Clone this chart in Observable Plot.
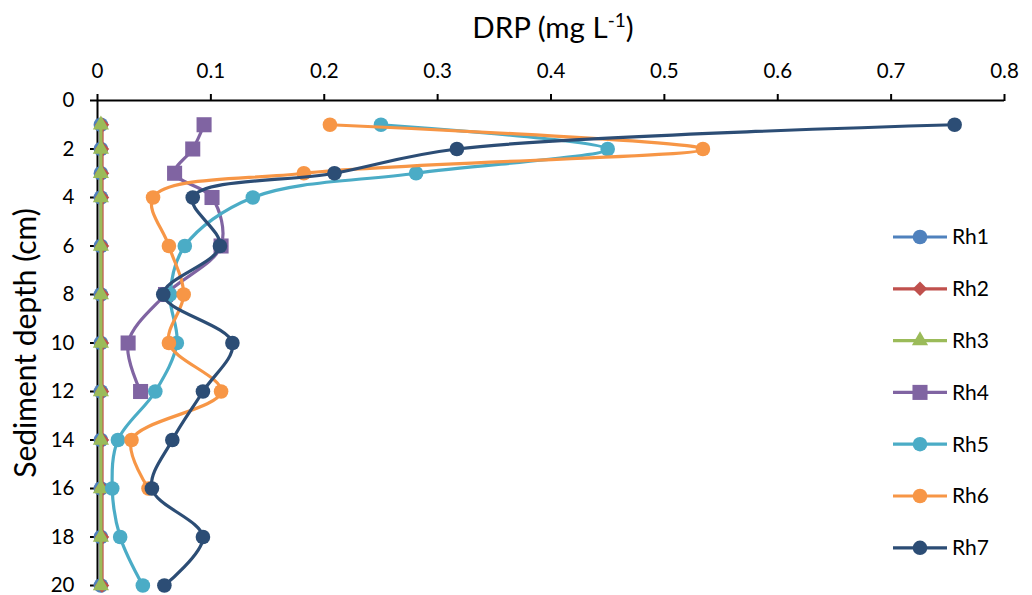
<!DOCTYPE html>
<html>
<head>
<meta charset="utf-8">
<script src="https://cdn.jsdelivr.net/npm/d3@7"></script>
<script src="https://cdn.jsdelivr.net/npm/@observablehq/plot@0.6"></script>
<style>
  html, body { margin: 0; padding: 0; background: #fff; }
  svg { display: block; }
</style>
</head>
<body>
<div id="chart"></div>
<script>
// ---- data ----
const seriesNames = ["Rh1", "Rh2", "Rh3", "Rh4", "Rh5", "Rh6", "Rh7"];
const seriesColors = ["#4F81BD", "#C0504D", "#9BBB59", "#8064A2", "#4BACC6", "#F79646", "#2C4D75"];
const seriesSymbols = ["circle", "diamond2", "triangle", "square", "circle", "circle", "circle"];
const depthsFull = [1, 2, 3, 4, 6, 8, 10, 12, 14, 16, 18, 20];
const depthsRh4 = [1, 2, 3, 4, 6, 8, 10, 12];
const depthsRh6 = [1, 2, 3, 4, 6, 8, 10, 12, 14, 16];
const rh1 = [0.003, 0.003, 0.003, 0.003, 0.003, 0.003, 0.003, 0.003, 0.003, 0.003, 0.003, 0.003];
const rh2 = [0.004, 0.004, 0.004, 0.004, 0.004, 0.004, 0.004, 0.004, 0.004, 0.004, 0.004, 0.004];
const rh3 = [0.003, 0.003, 0.003, 0.003, 0.003, 0.003, 0.003, 0.003, 0.003, 0.003, 0.003, 0.003];
const rh4 = [0.094, 0.084, 0.068, 0.101, 0.109, 0.060, 0.027, 0.038];
const rh5 = [0.250, 0.450, 0.281, 0.137, 0.077, 0.064, 0.070, 0.051, 0.018, 0.013, 0.020, 0.040];
const rh6 = [0.205, 0.534, 0.182, 0.049, 0.063, 0.076, 0.063, 0.109, 0.030, 0.045];
const rh7 = [0.756, 0.317, 0.209, 0.084, 0.108, 0.058, 0.119, 0.093, 0.066, 0.048, 0.093, 0.059];
const xTicks = [0, 0.1, 0.2, 0.3, 0.4, 0.5, 0.6, 0.7, 0.8];
const xTickLabels = ["0", "0.1", "0.2", "0.3", "0.4", "0.5", "0.6", "0.7", "0.8"];
const yTicks = [0, 2, 4, 6, 8, 10, 12, 14, 16, 18, 20];
const xTitle = "DRP (mg L";
const xTitleSup = "-1";
const yTitle = "Sediment depth (cm)";

const seriesValues = [rh1, rh2, rh3, rh4, rh5, rh6, rh7];
const seriesDepths = [depthsFull, depthsFull, depthsFull, depthsRh4, depthsFull, depthsRh6, depthsFull];
const symbolR = {circle: 7.3, diamond2: 6.5, triangle: 6, square: 8.5};

const rows = [];
seriesNames.forEach((s, i) => {
  seriesValues[i].forEach((v, j) => rows.push({series: s, v, depth: seriesDepths[i][j]}));
});

const marks = [
  Plot.ruleY([0], {stroke: "#000", strokeWidth: 2}),
  Plot.ruleX([0], {stroke: "#000", strokeWidth: 2}),
  Plot.axisX({anchor: "top", ticks: xTicks, tickFormat: (d) => xTickLabels[xTicks.indexOf(d)], tickSize: 7, tickPadding: 16, fontSize: 20.5, label: null, stroke: "#000", strokeWidth: 2}),
  Plot.axisY({anchor: "left", ticks: yTicks, tickSize: 7, tickPadding: 16, fontSize: 20.5, label: null, stroke: "#000", strokeWidth: 2})
];
seriesNames.forEach((s, i) => {
  const d = rows.filter(r => r.series === s);
  marks.push(Plot.line(d, {x: "v", y: "depth", stroke: seriesColors[i], strokeWidth: 3.2, curve: "catmull-rom"}));
  marks.push(Plot.dot(d, {x: "v", y: "depth", fill: seriesColors[i], stroke: "none", symbol: () => seriesSymbols[i], r: symbolR[seriesSymbols[i]]}));
});

const chart = Plot.plot({
  width: 1032,
  height: 595,
  marginTop: 100,
  marginLeft: 97,
  marginRight: 28,
  marginBottom: 10,
  style: {fontFamily: "Lato, 'Open Sans', sans-serif", fontSize: "20px", color: "#000", background: "#fff"},
  x: {domain: [0, 0.8]},
  y: {domain: [0, 20], reverse: true},
  symbol: {domain: ["circle", "diamond2", "triangle", "square"], range: ["circle", "diamond2", "triangle", "square"]},
  marks
});

document.getElementById("chart").appendChild(chart);

const svg = d3.select(chart);
const font = "Lato, 'Open Sans', sans-serif";
// x title
const t = svg.append("text")
  .attr("x", 553).attr("y", 38)
  .attr("text-anchor", "middle")
  .attr("font-family", font).attr("font-size", 29.5).attr("fill", "#000");
t.append("tspan").text(xTitle);
t.append("tspan").attr("dy", -11).attr("font-size", 19).text(xTitleSup);
t.append("tspan").attr("dy", 11).text(")");
// y title
svg.append("text")
  .attr("transform", "translate(28,343) rotate(-90)")
  .attr("text-anchor", "middle").attr("dominant-baseline", "middle")
  .attr("font-family", font).attr("font-size", 30).attr("fill", "#000")
  .text(yTitle);

// legend
const lg = svg.append("g").attr("text-anchor", "start");
const typeMap = {circle: d3.symbolCircle, diamond2: d3.symbolDiamond2, triangle: d3.symbolTriangle, square: d3.symbolSquare};
seriesNames.forEach((s, i) => {
  const cy = 237 + i * 51.8;
  lg.append("line").attr("x1", 893).attr("x2", 947).attr("y1", cy).attr("y2", cy)
    .attr("stroke", seriesColors[i]).attr("stroke-width", 3.2);
  const rr = symbolR[seriesSymbols[i]];
  lg.append("path").attr("d", d3.symbol(typeMap[seriesSymbols[i]], Math.PI * rr * rr)())
    .attr("transform", `translate(920,${cy})`).attr("fill", seriesColors[i]);
  lg.append("text").attr("x", 952).attr("y", cy).attr("dy", "0.35em")
    .attr("text-anchor", "start")
    .attr("font-family", font).attr("font-size", 21).attr("fill", "#000").text(s);
});
</script>
</body>
</html>
